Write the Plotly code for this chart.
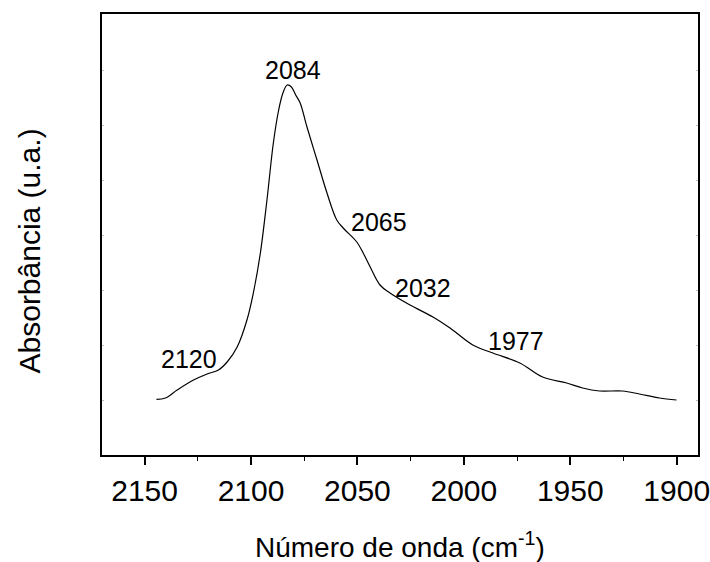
import plotly.graph_objects as go

# FTIR spectrum: wavenumber (cm-1) and absorbance (arbitrary units)
wavenumber = [2144.4, 2140.2, 2134.7, 2127.0, 2120.6, 2115.3, 2111.2, 2106.5,
              2101.9, 2098.9, 2095.6, 2092.5, 2089.5, 2087.0, 2085.0, 2083.0,
              2081.0, 2079.0, 2076.9, 2073.7, 2069.0, 2064.3, 2059.7, 2056.7,
              2050.3, 2047.3, 2044.0, 2039.4, 2034.7, 2025.3, 2014.5, 2006.5,
              1995.8, 1986.4, 1973.7, 1963.0, 1951.7, 1944.2, 1936.3, 1925.5,
              1917.5, 1908.1, 1900.1]
absorbance = [0.557, 0.57, 0.65, 0.75, 0.81, 0.85, 0.93, 1.08,
              1.35, 1.62, 2.02, 2.55, 3.12, 3.45, 3.62, 3.70,
              3.68, 3.60, 3.52, 3.28, 2.95, 2.62, 2.35, 2.27,
              2.13, 2.02, 1.88, 1.70, 1.62, 1.50, 1.38, 1.27,
              1.10, 1.02, 0.92, 0.78, 0.72, 0.67, 0.64, 0.64,
              0.61, 0.57, 0.55]

# Band assignments written next to the curve
band_labels = ["2120", "2084", "2065", "2032", "1977"]
band_label_x = [2128.9, 2080.1, 2039.8, 2019.2, 1975.6]
band_label_y = [0.96, 3.85, 2.33, 1.67, 1.14]

x_ticks = [2150, 2100, 2050, 2000, 1950, 1900]

FONT = "Liberation Sans, Arial"

fig = go.Figure()
fig.add_trace(go.Scatter(
    x=wavenumber, y=absorbance, mode="lines",
    line=dict(color="black", width=1.2, shape="spline", smoothing=1.0),
    hoverinfo="skip", showlegend=False,
))

for txt, bx, by in zip(band_labels, band_label_x, band_label_y):
    fig.add_annotation(x=bx, y=by, text=txt, showarrow=False,
                       font=dict(family=FONT, size=25, color="black"),
                       xanchor="center", yanchor="middle")

# Axis titles
fig.add_annotation(xref="paper", yref="paper", x=0.5, y=0, yshift=-90,
                   text="Número de onda (cm<sup>-1</sup>)", showarrow=False,
                   font=dict(family=FONT, size=28, color="black"),
                   xanchor="center", yanchor="middle")
fig.add_annotation(xref="paper", yref="paper", x=0, xshift=-73, y=0.5, yshift=-17,
                   text="Absorbância (u.a.)", showarrow=False, textangle=-90,
                   font=dict(family=FONT, size=30, color="black"),
                   xanchor="center", yanchor="middle")

fig.update_layout(
    template="none",
    width=710, height=562,
    margin=dict(l=102, r=12, t=14, b=107, autoexpand=False),
    paper_bgcolor="white", plot_bgcolor="white",
    font=dict(family=FONT, color="black"),
    xaxis=dict(
        range=[2170, 1890], tickvals=x_ticks, ticktext=[str(v) for v in x_ticks],
        ticks="outside", ticklen=8, tickwidth=1.5, tickcolor="black",
        minor=dict(dtick=25, tick0=1900, ticks="outside", ticklen=4,
                   tickwidth=1.2, tickcolor="black"),
        showline=True, linecolor="black", linewidth=2, mirror=True,
        showgrid=False, zeroline=False, automargin=False,
        ticklabeloverflow="allow",
        tickfont=dict(family=FONT, size=30, color="black"),
    ),
    yaxis=dict(
        range=[0, 4.41], showticklabels=False,
        tick0=0, dtick=0.55, ticks="inside", ticklen=2, tickwidth=1,
        tickcolor="#bbbbbb",
        showline=True, linecolor="black", linewidth=2, mirror="ticks",
        showgrid=False, zeroline=False, automargin=False,
    ),
)

fig.write_html(
    "out.html",
    post_script="document.body.style.margin='0';document.body.style.overflow='hidden';",
)
